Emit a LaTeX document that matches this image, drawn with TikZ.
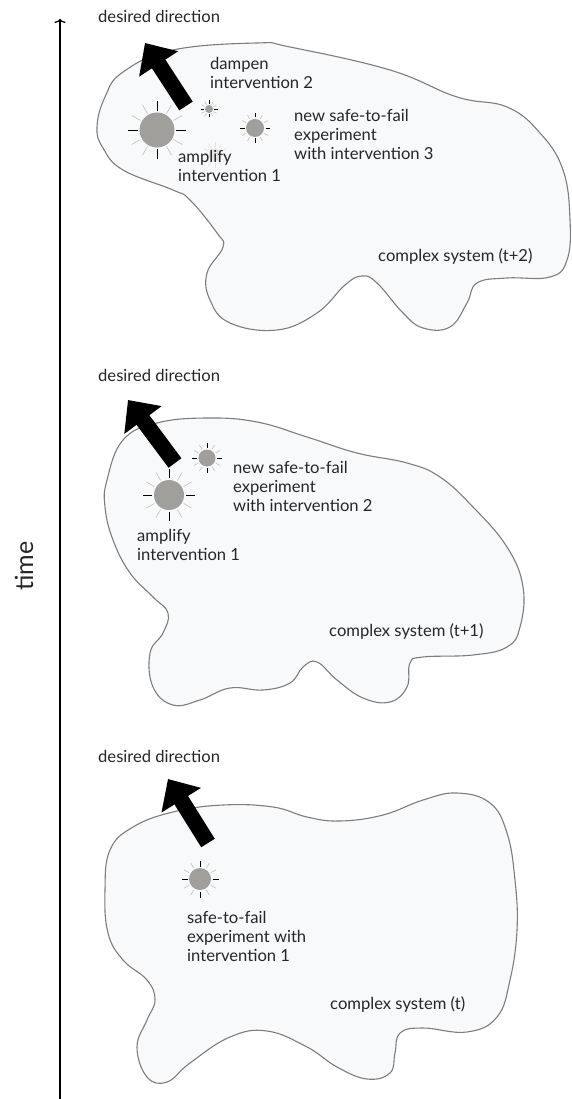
\documentclass[tikz,border=0pt]{standalone}
\usepackage{fontspec}
\setmainfont{Lato}
\usetikzlibrary{arrows.meta}
\definecolor{blobfill}{HTML}{F8F9FB}
\definecolor{blobline}{HTML}{7D7D7D}
\definecolor{sungray}{HTML}{A09F9B}
\definecolor{raygray}{HTML}{BEBEBE}
\definecolor{inkgray}{HTML}{262626}

\begin{document}
\begin{tikzpicture}[x=1pt, y=-1pt,
    blob/.style={draw=blobline, fill=blobfill, line width=1.1pt},
    txt/.style={anchor=base west, align=left, inner sep=0pt, text=inkgray,
        font=\fontsize{16.6}{19}\selectfont},
    dirarrow/.style={line width=16pt, -{Triangle[length=25pt, width=45pt]}}]
    \useasboundingbox (0, 0) rectangle (572, 1099);
    % time axis
    \coordinate (tstart) at (60, 1099);
    \coordinate (tend) at (60, 19);
    \draw[line width=1.3pt, -{To[length=4pt, width=11pt]}] (tstart) -- (tend);
    \node[rotate=90, anchor=base, text=inkgray, font=\fontsize{25}{28}\selectfont] (timelbl) at (33, 566) {time};
    % draw the three systems
    \draw[blob] plot[smooth cycle, tension=0.7] coordinates {
        (97,127) (105,97) (123,72) (173,50) (257,43) (290,47) (390,70) (457,97)
        (507,107) (540,133) (563,170) (570,220) (567,260) (550,277) (507,278)
        (477,283) (467,303) (450,327) (423,328) (403,313) (377,283) (362,276)
        (345,285) (317,313) (277,330) (230,323) (210,300) (207,273) (223,247)
        (217,233) (190,200) (173,190) (123,170) (103,148)};
    \draw[blob] plot[smooth cycle, tension=0.7] coordinates {
        (107,480) (123,440) (157,423) (207,418) (257,422) (307,437) (357,453)
        (407,463) (440,477) (473,507) (507,547) (523,587) (520,627) (507,647)
        (473,655) (423,657) (410,663) (407,687) (390,702) (363,698) (337,680)
        (317,662) (303,667) (290,683) (263,690) (230,688) (200,700) (173,705)
        (153,687) (150,653) (163,633) (168,613) (153,597) (130,573) (113,540)
        (105,507)};
    \draw[blob] plot[smooth cycle, tension=0.7] coordinates {
        (105,890) (110,850) (133,827) (173,812) (223,805) (273,807) (307,817)
        (340,821) (383,815) (423,800) (457,793) (490,803) (507,833) (515,880)
        (517,930) (510,980) (497,1017) (467,1032) (423,1028) (400,1033)
        (395,1053) (390,1073) (367,1079) (337,1067) (307,1047) (267,1031)
        (230,1037) (190,1063) (167,1082) (147,1077) (137,1047) (147,1020)
        (155,1000) (147,980) (123,960) (108,933)};
    % desired direction arrows
    \coordinate (tail2) at (186, 106);
    \coordinate (tip2) at (145, 43);
    \coordinate (tail1) at (175, 463);
    \coordinate (tip1) at (128, 400);
    \coordinate (tail0) at (208, 843);
    \coordinate (tip0) at (168, 779);
    \draw[dirarrow] (tail2) -- (tip2);
    \draw[dirarrow] (tail1) -- (tip1);
    \draw[dirarrow] (tail0) -- (tip0);
    % faded sun of the dampened intervention
    \begin{scope}[opacity=0.4]
        \fill[sungray!60] (215, 155) circle (6.5);
        \foreach \a in {0, 30, 60, ..., 330}{
            \draw[raygray, line width=0.6pt, shift={(215, 155)}] (\a:8) -- (\a:13);
        }
    \end{scope}
    % interventions: disc, black rays on the axes, grey rays between
    \foreach \x/\y/\r/\p/\q in {157/130/17.5/19/29, 209/109/4/5/8.5, 255/128/9/10.5/15,
        169/495/15/17/26, 207/458/8.5/10/15, 200/879/11/12.5/18.5}{
        \fill[sungray] (\x, \y) circle (\r);
        \foreach \a in {30, 60, 120, 150, 210, 240, 300, 330}{
            \draw[raygray, line width=0.6pt, shift={(\x, \y)}] (\a:\p) -- (\a:\q);
        }
        \foreach \a in {0, 90, 180, 270}{
            \draw[line width=0.9pt, shift={(\x, \y)}] (\a:\p) -- (\a:\q);
        }
    }
    % labels (t+2), placed at the baseline of their last line
    \node[txt] (dir2) at (98, 22.7) {desired direction};
    \node[txt] (damp2) at (210, 88.5) {dampen\\intervention 2};
    \node[txt] (amp2) at (178, 182) {amplify\\intervention 1};
    \node[txt] (new2) at (294, 160) {new safe-to-fail\\experiment\\with intervention 3};
    \node[txt] (sys2) at (378, 261.7) {complex system (t+2)};
    % labels (t+1)
    \node[txt] (dir1) at (98, 381.7) {desired direction};
    \node[txt] (new1) at (233, 511.7) {new safe-to-fail\\experiment\\with intervention 2};
    \node[txt] (amp1) at (137, 560.5) {amplify\\intervention 1};
    \node[txt] (sys1) at (329, 636) {complex system (t+1)};
    % labels (t)
    \node[txt] (dir0) at (98, 762.7) {desired direction};
    \node[txt] (exp0) at (187, 961.7) {safe-to-fail\\experiment with\\intervention 1};
    \node[txt] (sys0) at (330, 1009) {complex system (t)};
\end{tikzpicture}
\end{document}
